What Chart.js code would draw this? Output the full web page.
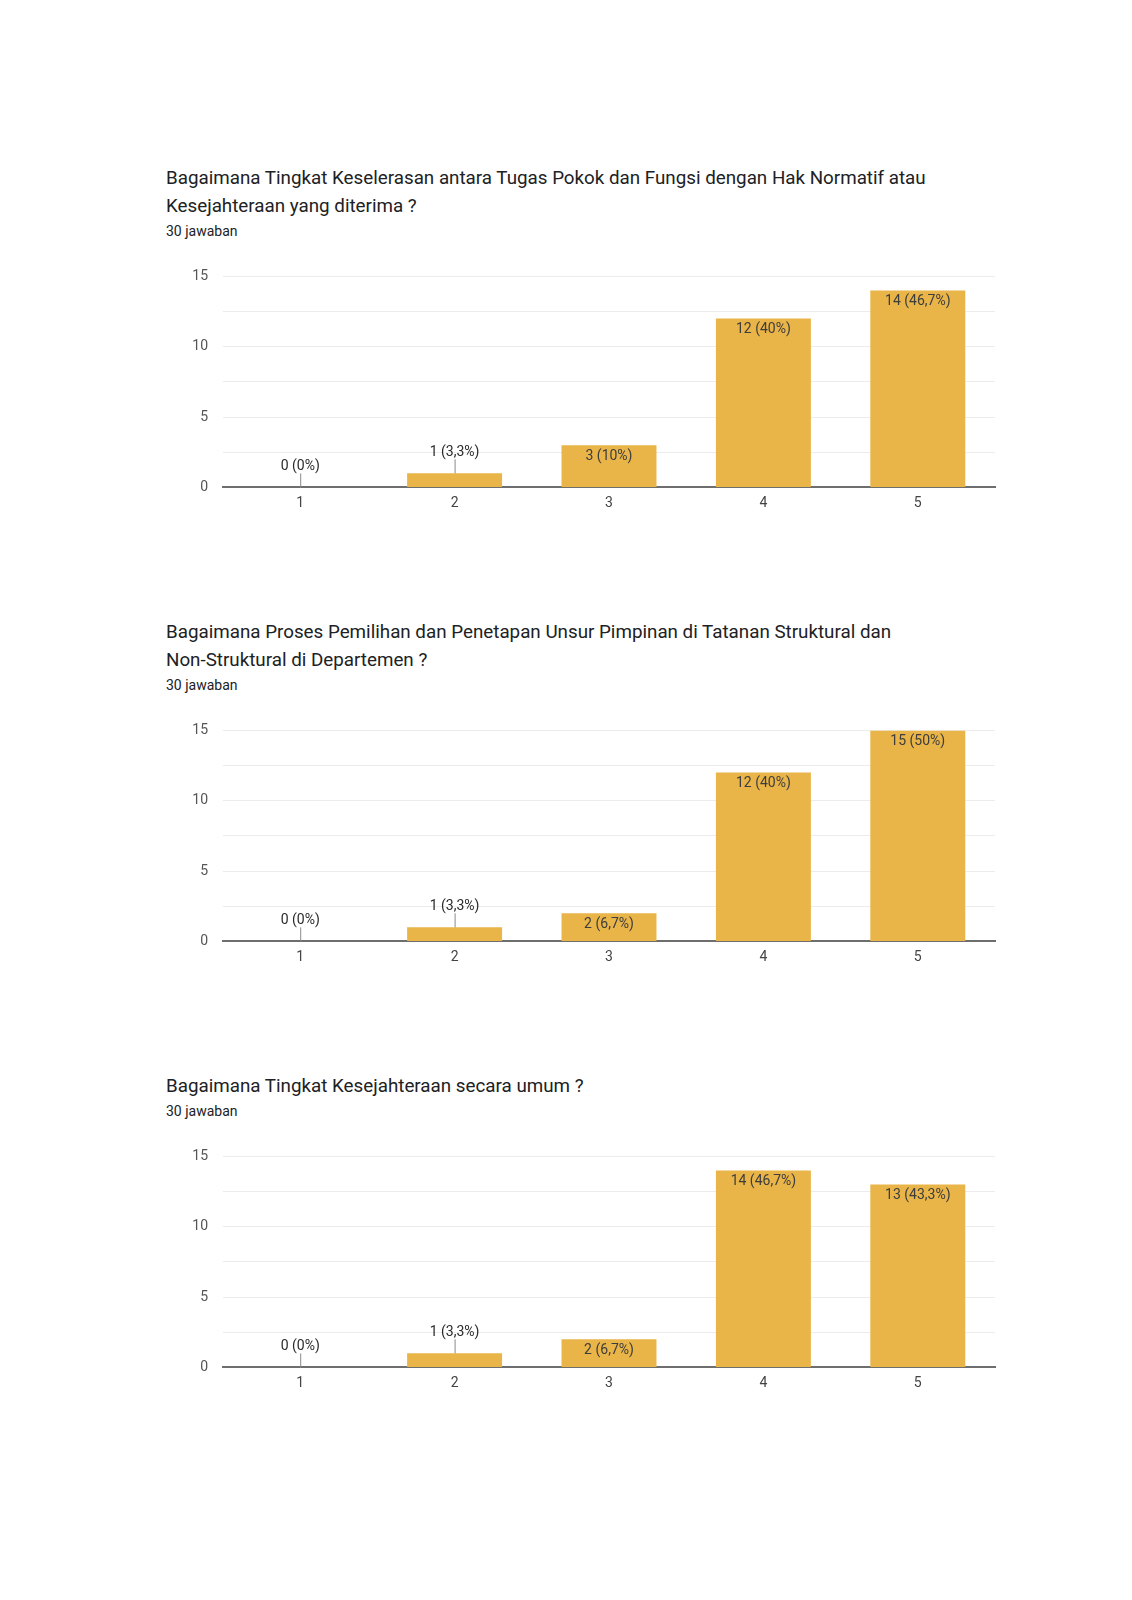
<!DOCTYPE html>
<html>
<head>
<meta charset="utf-8">
<script src="https://cdn.jsdelivr.net/npm/chart.js@4.4.0/dist/chart.umd.min.js"></script>
<style>
  body { margin: 0; background: #fff; font-family: Roboto, "Noto Sans", sans-serif; }
  .page { position: relative; width: 1132px; height: 1600px; }
  .title { position: absolute; left: 166px; font-size: 18.8px; line-height: 28px; color: #202124; white-space: nowrap; }
  .sub { position: absolute; left: 166px; font-size: 14px; line-height: 20px; color: #202124; }
  .box { position: absolute; left: 150px; width: 860px; height: 260px; }
</style>
</head>
<body>
<div class="page">
  <div class="title" style="top:164px">Bagaimana Tingkat Keselerasan antara Tugas Pokok dan Fungsi dengan Hak Normatif atau<br>Kesejahteraan yang diterima ?</div>
  <div class="sub" style="top:221px">30 jawaban</div>
  <div class="box" style="top:252.6px"><canvas id="chart1"></canvas></div>

  <div class="title" style="top:618px">Bagaimana Proses Pemilihan dan Penetapan Unsur Pimpinan di Tatanan Struktural dan<br>Non-Struktural di Departemen ?</div>
  <div class="sub" style="top:675px">30 jawaban</div>
  <div class="box" style="top:706.6px"><canvas id="chart2"></canvas></div>

  <div class="title" style="top:1072px">Bagaimana Tingkat Kesejahteraan secara umum ?</div>
  <div class="sub" style="top:1101px">30 jawaban</div>
  <div class="box" style="top:1133px"><canvas id="chart3"></canvas></div>
</div>
<script>
const categories = ['1', '2', '3', '4', '5'];
const keselarasan = [0, 1, 3, 12, 14];
const keselarasanPct = ['0%', '3,3%', '10%', '40%', '46,7%'];
const pemilihan = [0, 1, 2, 12, 15];
const pemilihanPct = ['0%', '3,3%', '6,7%', '40%', '50%'];
const kesejahteraan = [0, 1, 2, 14, 13];
const kesejahteraanPct = ['0%', '3,3%', '6,7%', '46,7%', '43,3%'];
const yTicks = [0, 5, 10, 15];

const barColor = '#e9b448';

// value labels: inside the bar top when it fits, otherwise above with a short leader line
const barLabels = {
    id: 'barLabels',
    afterDatasetsDraw(chart) {
        const ctx = chart.ctx;
        const ds = chart.data.datasets[0];
        const meta = chart.getDatasetMeta(0);
        ctx.save();
        ctx.font = '14px Roboto, sans-serif';
        ctx.textAlign = 'center';
        ctx.textBaseline = 'middle';
        meta.data.forEach((bar, i) => {
            const text = ds.data[i] + ' (' + ds.pct[i] + ')';
            const h = bar.base - bar.y;
            if (h >= 22) {
                ctx.fillStyle = '#3d3d3d';
                ctx.fillText(text, bar.x, bar.y + 11);
            } else {
                ctx.strokeStyle = '#8a8a8a';
                ctx.lineWidth = 1;
                ctx.beginPath();
                ctx.moveTo(bar.x + 0.5, bar.y);
                ctx.lineTo(bar.x + 0.5, bar.y - 14);
                ctx.stroke();
                ctx.fillStyle = '#2a2a2a';
                ctx.fillText(text, bar.x, bar.y - 21);
            }
        });
        ctx.restore();
    }
};

function makeChart(id, values, pct) {
    new Chart(document.getElementById(id), {
        type: 'bar',
        data: {
            labels: categories,
            datasets: [{
                data: values,
                pct: pct,
                backgroundColor: barColor,
                borderWidth: 0,
                barPercentage: 0.615,
                categoryPercentage: 1
            }]
        },
        options: {
            responsive: true,
            maintainAspectRatio: false,
            animation: false,
            layout: { padding: { top: 0, right: 15, left: 0, bottom: 0 } },
            plugins: { legend: { display: false }, tooltip: { enabled: false } },
            scales: {
                x: {
                    grid: { display: false, drawTicks: false },
                    border: { color: '#6e6e6e', width: 2 },
                    ticks: { color: '#444', font: { family: 'Roboto', size: 14 }, padding: 8 },
                    afterFit(scale) { scale.height = 25.6; }
                },
                y: {
                    min: 0,
                    max: 15,
                    border: { display: false },
                    grid: {
                        drawTicks: false,
                        color: c => c.tick.value === 0 ? 'rgba(0,0,0,0)' : '#ececec',
                        lineWidth: 1
                    },
                    ticks: {
                        stepSize: 2.5,
                        padding: 15,
                        color: '#555',
                        font: { family: 'Roboto', size: 14 },
                        callback: v => yTicks.includes(v) ? v : ''
                    },
                    afterFit(scale) { scale.width = 73; }
                }
            }
        },
        plugins: [barLabels]
    });
}

makeChart('chart1', keselarasan, keselarasanPct);
makeChart('chart2', pemilihan, pemilihanPct);
makeChart('chart3', kesejahteraan, kesejahteraanPct);
</script>
</body>
</html>
